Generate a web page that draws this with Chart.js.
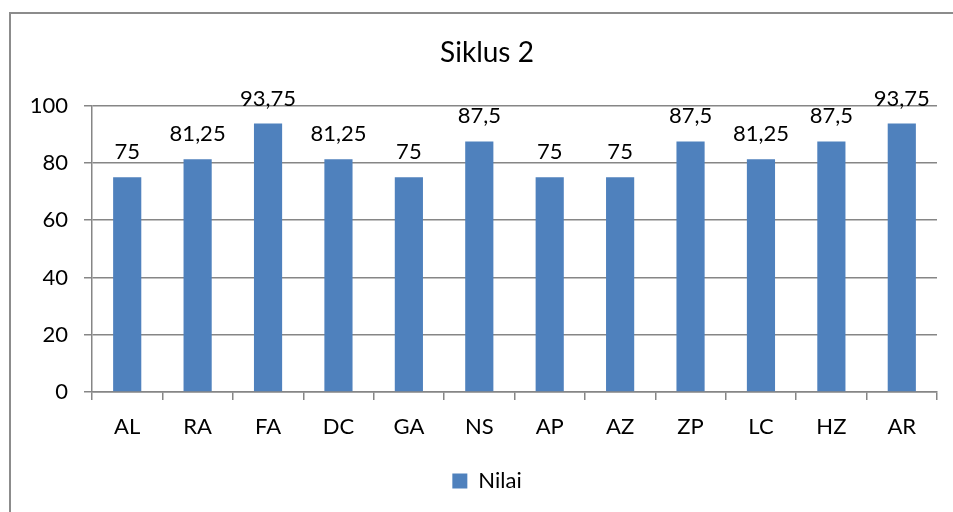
<!DOCTYPE html>
<html>
<head>
<meta charset="utf-8">
<script src="https://cdn.jsdelivr.net/npm/chart.js@4"></script>
<style>
  html, body { margin: 0; padding: 0; background: #fff; }
  #wrap { width: 953px; height: 512px; position: relative; }
</style>
</head>
<body>
<div id="wrap"><canvas id="myChart" width="953" height="512"></canvas></div>
<script>
var categories = ['AL', 'RA', 'FA', 'DC', 'GA', 'NS', 'AP', 'AZ', 'ZP', 'LC', 'HZ', 'AR'];
var nilai = [75, 81.25, 93.75, 81.25, 75, 87.5, 75, 75, 87.5, 81.25, 87.5, 93.75];
var yTicks = [0, 20, 40, 60, 80, 100];

var fontFamily = 'Lato, "Open Sans", sans-serif';
var gridColor = '#868686';

// bingkai abu-abu di sekeliling grafik
var frame = {
    id: 'frame',
    beforeDraw: function(chart) {
        var ctx = chart.ctx;
        ctx.save();
        ctx.strokeStyle = '#8c8c8c';
        ctx.lineWidth = 2;
        ctx.strokeRect(10, 13, chart.width + 20, chart.height + 20);
        ctx.restore();
    }
};

// label nilai di atas batang
var valueLabels = {
    id: 'valueLabels',
    afterDatasetsDraw: function(chart) {
        var ctx = chart.ctx;
        var meta = chart.getDatasetMeta(0);
        ctx.save();
        ctx.font = '22px ' + fontFamily;
        ctx.fillStyle = '#000';
        ctx.textAlign = 'center';
        ctx.textBaseline = 'alphabetic';
        meta.data.forEach(function(bar, i) {
            var txt = String(nilai[i]).replace('.', ',');
            ctx.fillText(txt, bar.x, bar.y - 18);
        });
        ctx.restore();
    }
};

var ctx = document.getElementById('myChart');
new Chart(ctx, {
    type: 'bar',
    data: {
        labels: categories,
        datasets: [{
            label: 'Nilai',
            data: nilai,
            backgroundColor: '#4F81BD',
            borderWidth: 0,
            categoryPercentage: 1,
            barPercentage: 0.4
        }]
    },
    options: {
        responsive: false,
        animation: false,
        layout: { padding: { top: 0, left: 27, right: 6, bottom: 10 } },
        scales: {
            y: {
                min: 0,
                max: 100,
                afterBuildTicks: function(scale) {
                    scale.ticks = yTicks.map(function(v) { return { value: v }; });
                },
                afterFit: function(scale) { scale.width = 65; },
                grid: { color: gridColor, lineWidth: 1.5, tickLength: 8 },
                border: { color: gridColor, width: 1.5 },
                ticks: { color: '#000', padding: 16, font: { size: 22, family: fontFamily } }
            },
            // sumbu kosong di kanan, hanya untuk jarak
            yKanan: {
                position: 'right',
                min: 0,
                max: 100,
                afterFit: function(scale) { scale.width = 10; },
                grid: { display: false },
                border: { display: false },
                ticks: { display: false }
            },
            x: {
                afterFit: function(scale) { scale.height = 68; },
                grid: { drawOnChartArea: false, drawTicks: true, tickLength: 8, color: gridColor, lineWidth: 1.5 },
                border: { color: gridColor, width: 1.5 },
                ticks: { color: '#000', padding: 14, font: { size: 22, family: fontFamily } }
            }
        },
        plugins: {
            title: {
                display: true,
                text: 'Siklus 2',
                color: '#000',
                font: { size: 28, family: fontFamily, weight: 'normal' },
                padding: { top: 36, bottom: 36 }
            },
            legend: {
                position: 'bottom',
                labels: {
                    color: '#000',
                    boxWidth: 15,
                    boxHeight: 15,
                    font: { size: 22, family: fontFamily }
                }
            },
            tooltip: { enabled: false }
        }
    },
    plugins: [frame, valueLabels]
});
</script>
</body>
</html>
